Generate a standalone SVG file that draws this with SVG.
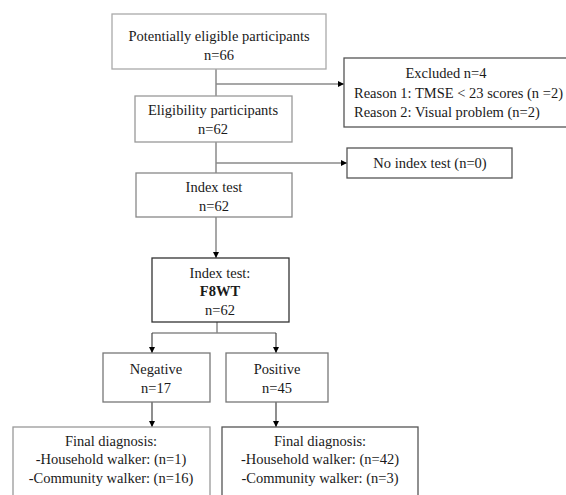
<svg xmlns="http://www.w3.org/2000/svg" width="566" height="495" viewBox="0 0 566 495">
<style>
text{font-family:"Liberation Serif","Times New Roman",serif;font-size:14.5px;fill:#1a1a1a;text-anchor:middle}
.b{fill:#fff;stroke-width:1.3}
.c{fill:none;stroke:#8a8a8a;stroke-width:1.5}
.c2{fill:none;stroke:#444;stroke-width:1.2}
</style>
<defs>
<marker id="ah" viewBox="0 0 10 10" refX="10" refY="5" markerWidth="6" markerHeight="6" markerUnits="userSpaceOnUse" orient="auto">
<path d="M0,0 L10,5 L0,10 z" fill="#000"/>
</marker>
</defs>
<rect width="566" height="495" fill="#fff"/>
<g id="connectors">
<path class="c" d="M216,69 V96"/>
<path class="c" d="M216,84 H344" marker-end="url(#ah)"/>
<path class="c" d="M216,142 V173"/>
<path class="c" d="M216,163 H347" marker-end="url(#ah)"/>
<path class="c" d="M216,217 V258" marker-end="url(#ah)"/>
<path class="c" d="M217,322 V333 M152,333 H276"/>
<path class="c2" d="M152,333 V353" marker-end="url(#ah)"/>
<path class="c2" d="M276,333 V353" marker-end="url(#ah)"/>
<path class="c2" d="M152,402 V427" marker-end="url(#ah)"/>
<path class="c2" d="M276,402 V427" marker-end="url(#ah)"/>
</g>
<g id="potential">
<rect class="b" x="112" y="14" width="214" height="55" stroke="#aaa"/>
<text x="219" y="41">Potentially eligible participants</text>
<text x="219" y="60">n=66</text>
</g>
<g id="excluded">
<rect class="b" x="344" y="58" width="225" height="69" stroke="#555"/>
<text x="446" y="78">Excluded n=4</text>
<text x="354" y="98" style="text-anchor:start">Reason 1: TMSE &lt; 23 scores (n =2)</text>
<text x="354" y="117" style="text-anchor:start">Reason 2: Visual problem (n=2)</text>
</g>
<g id="eligible">
<rect class="b" x="135" y="96" width="157" height="46" stroke="#999"/>
<text x="213" y="115">Eligibility participants</text>
<text x="213" y="134">n=62</text>
</g>
<g id="noindex">
<rect class="b" x="347" y="148" width="165" height="30" stroke="#555"/>
<text x="430" y="168">No index test (n=0)</text>
</g>
<g id="index">
<rect class="b" x="136" y="173" width="156" height="44" stroke="#888"/>
<text x="214" y="192">Index test</text>
<text x="214" y="211">n=62</text>
</g>
<g id="f8wt">
<rect class="b" x="152" y="258" width="137" height="64" stroke="#333"/>
<text x="220" y="278">Index test:</text>
<text x="220" y="296" style="font-weight:bold">F8WT</text>
<text x="220" y="315">n=62</text>
</g>
<g id="negative">
<rect class="b" x="103" y="353" width="107" height="49" stroke="#777"/>
<text x="156" y="374">Negative</text>
<text x="156" y="393">n=17</text>
</g>
<g id="positive">
<rect class="b" x="226" y="353" width="102" height="49" stroke="#777"/>
<text x="277" y="374">Positive</text>
<text x="277" y="393">n=45</text>
</g>
<g id="final-neg">
<rect class="b" x="13" y="427" width="197" height="72" stroke="#999"/>
<text x="111" y="446">Final diagnosis:</text>
<text x="111" y="464">-Household walker: (n=1)</text>
<text x="111" y="483">-Community walker: (n=16)</text>
</g>
<g id="final-pos">
<rect class="b" x="222" y="427" width="196" height="72" stroke="#555"/>
<text x="320" y="446">Final diagnosis:</text>
<text x="320" y="464">-Household walker: (n=42)</text>
<text x="320" y="483">-Community walker: (n=3)</text>
</g>
</svg>
